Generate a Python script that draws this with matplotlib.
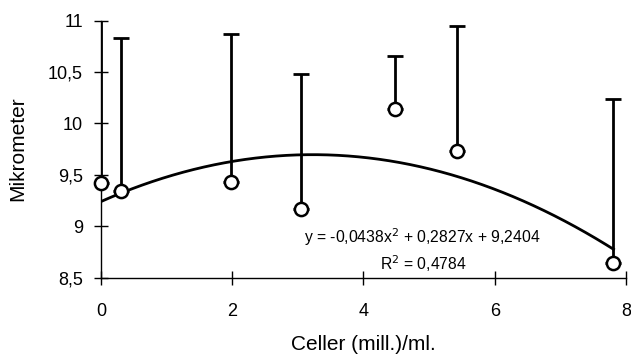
import numpy as np
import matplotlib
matplotlib.use("Agg")
import matplotlib.pyplot as plt

plt.rcParams["font.family"] = ["Liberation Sans", "DejaVu Sans"]

# data
cells = [0.0, 0.30, 1.98, 3.05, 4.48, 5.42, 7.81]
mean_um = [9.42, 9.34, 9.43, 9.17, 10.14, 9.73, 8.64]
upper_um = [11.06, 10.83, 10.87, 10.48, 10.66, 10.95, 10.24]

coef = [-0.0438, 0.2827, 9.2404]
r2_text = "R$^2$ = 0,4784"
eq_text = "y = -0,0438x$^2$ + 0,2827x + 9,2404"

x_ticks = [0, 2, 4, 6, 8]
y_ticks = [8.5, 9, 9.5, 10, 10.5, 11]
y_tick_labels = ["8,5", "9", "9,5", "10", "10,5", "11"]

fig = plt.figure(figsize=(6.31, 3.56), dpi=100)
ax = fig.add_axes([0.160, 0.22, 0.832, 0.722])

yerr = [np.zeros(len(mean_um)), np.array(upper_um) - np.array(mean_um)]
ax.errorbar(cells, mean_um, yerr=yerr, fmt="none", ecolor="black",
            elinewidth=2.0, capsize=6, capthick=2.0, zorder=2)

xs = np.linspace(0, max(cells), 200)
ax.plot(xs, np.polyval(coef, xs), color="black", lw=2.0, zorder=3)

ax.plot(cells, mean_um, "o", ms=9.5, mfc="white", mec="black", mew=1.8,
        zorder=4, clip_on=False)

ax.text(4.89, 8.89, eq_text, ha="center", va="center", fontsize=11.3)
ax.text(4.92, 8.64, r2_text, ha="center", va="center", fontsize=11.3)

ax.set_xlim(0, 8)
ax.set_ylim(8.5, 11)
ax.set_xticks(x_ticks)
ax.set_yticks(y_ticks)
ax.set_yticklabels(y_tick_labels)
ax.tick_params(direction="inout", length=10, width=1, labelsize=13)
ax.tick_params(axis="x", pad=13)
ax.tick_params(axis="y", pad=8)
for s in ["top", "right"]:
    ax.spines[s].set_visible(False)
for s in ["left", "bottom"]:
    ax.spines[s].set_linewidth(1)
ax.set_xlabel("Celler (mill.)/ml.", fontsize=15)
ax.set_ylabel("Mikrometer", fontsize=15)
ax.xaxis.set_label_coords(0.5, -0.222)
ax.yaxis.set_label_coords(-0.140, 0.5)

fig.savefig("out.png", dpi=100)
